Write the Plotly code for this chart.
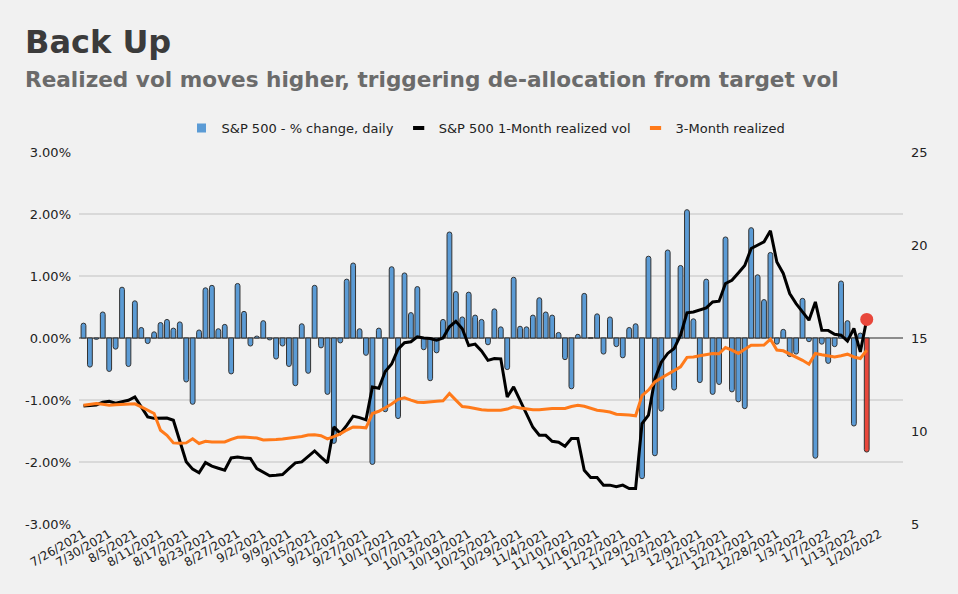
import plotly.graph_objects as go

# ---- data -------------------------------------------------------------
dates = [
    "7/26/2021", "7/27/2021", "7/28/2021", "7/29/2021", "7/30/2021",
    "8/2/2021", "8/3/2021", "8/4/2021", "8/5/2021", "8/6/2021", "8/9/2021", "8/10/2021",
    "8/11/2021", "8/12/2021", "8/13/2021", "8/16/2021", "8/17/2021", "8/18/2021",
    "8/19/2021", "8/20/2021", "8/23/2021", "8/24/2021", "8/25/2021", "8/26/2021",
    "8/27/2021", "8/30/2021", "8/31/2021",
    "9/1/2021", "9/2/2021", "9/3/2021", "9/7/2021", "9/8/2021", "9/9/2021", "9/10/2021",
    "9/13/2021", "9/14/2021", "9/15/2021", "9/16/2021", "9/17/2021", "9/20/2021",
    "9/21/2021", "9/22/2021", "9/23/2021", "9/24/2021", "9/27/2021", "9/28/2021",
    "9/29/2021", "9/30/2021",
    "10/1/2021", "10/4/2021", "10/5/2021", "10/6/2021", "10/7/2021", "10/8/2021",
    "10/11/2021", "10/12/2021", "10/13/2021", "10/14/2021", "10/15/2021", "10/18/2021",
    "10/19/2021", "10/20/2021", "10/21/2021", "10/22/2021", "10/25/2021", "10/26/2021",
    "10/27/2021", "10/28/2021", "10/29/2021",
    "11/1/2021", "11/2/2021", "11/3/2021", "11/4/2021", "11/5/2021", "11/8/2021",
    "11/9/2021", "11/10/2021", "11/11/2021", "11/12/2021", "11/15/2021", "11/16/2021",
    "11/17/2021", "11/18/2021", "11/19/2021", "11/22/2021", "11/23/2021", "11/24/2021",
    "11/26/2021", "11/29/2021", "11/30/2021",
    "12/1/2021", "12/2/2021", "12/3/2021", "12/6/2021", "12/7/2021", "12/8/2021",
    "12/9/2021", "12/10/2021", "12/13/2021", "12/14/2021", "12/15/2021", "12/16/2021",
    "12/17/2021", "12/20/2021", "12/21/2021", "12/22/2021", "12/23/2021", "12/27/2021",
    "12/28/2021", "12/29/2021", "12/30/2021", "12/31/2021",
    "1/3/2022", "1/4/2022", "1/5/2022", "1/6/2022", "1/7/2022", "1/10/2022", "1/11/2022",
    "1/12/2022", "1/13/2022", "1/14/2022", "1/18/2022", "1/19/2022", "1/20/2022",
]

# S&P 500 daily % change
daily_change = [
    0.24, -0.47, -0.02, 0.42, -0.54,
    -0.18, 0.82, -0.46, 0.60, 0.17, -0.09, 0.10, 0.25, 0.30, 0.16, 0.26, -0.71, -1.07,
    0.13, 0.81, 0.85, 0.15, 0.22, -0.58, 0.88, 0.43, -0.13,
    0.03, 0.28, -0.03, -0.34, -0.13, -0.46, -0.77, 0.23, -0.57, 0.85, -0.16, -0.91, -1.70,
    -0.08, 0.95, 1.21, 0.15, -0.28, -2.04, 0.16, -1.19,
    1.15, -1.30, 1.05, 0.41, 0.83, -0.19, -0.69, -0.24, 0.30, 1.71, 0.75, 0.34, 0.74,
    0.37, 0.30, -0.11, 0.47, 0.18, -0.51, 0.98, 0.19,
    0.18, 0.37, 0.65, 0.42, 0.37, 0.09, -0.35, -0.82, 0.06, 0.72, 0.00, 0.39, -0.26,
    0.34, -0.14, -0.32, 0.17, 0.23, -2.27, 1.32, -1.90,
    -1.18, 1.42, -0.84, 1.17, 2.07, 0.31, -0.72, 0.95, -0.91, -0.75, 1.63, -0.87, -1.03,
    -1.14, 1.78, 1.02, 0.62, 1.38, -0.10, 0.14, -0.30, -0.26,
    0.64, -0.06, -1.94, -0.10, -0.41, -0.14, 0.92, 0.28, -1.42, 0.08, -1.84,
]

# S&P 500 1-Month realized vol (right axis)
vol_1m = [
    11.35, 11.38, 11.40, 11.55, 11.60, 11.50, 11.56, 11.65, 11.83, 11.30,
    10.76, 10.68, 10.68, 10.70, 10.58, 9.45, 8.35, 7.95, 7.75, 8.30,
    8.11, 8.00, 7.89, 8.55, 8.60, 8.55, 8.52, 7.98, 7.78, 7.59,
    7.62, 7.66, 7.98, 8.29, 8.34, 8.62, 8.93, 8.60, 8.29, 10.22,
    9.87, 10.30, 10.80, 10.72, 10.60, 12.37, 12.30, 13.20, 13.60, 14.40,
    14.75, 14.80, 15.06, 15.00, 14.97, 14.88, 15.00, 15.60, 15.90, 15.50,
    14.60, 14.67, 14.30, 13.80, 13.90, 13.88, 11.83, 12.37, 11.66, 10.94,
    10.20, 9.77, 9.77, 9.45, 9.40, 9.18, 9.60, 9.60, 7.89, 7.50,
    7.50, 7.09, 7.09, 7.00, 7.09, 6.91, 6.91, 10.40, 10.85, 12.80,
    13.70, 14.17, 14.44, 15.15, 16.35, 16.40, 16.53, 16.62, 16.94, 16.98,
    17.93, 18.10, 18.50, 18.90, 19.81, 20.00, 20.17, 20.76, 19.09, 18.47,
    17.39, 16.85, 16.40, 15.96, 16.94, 15.42, 15.41, 15.20, 15.15, 14.83,
    15.51, 14.25, 16.00,
]

# 3-Month realized vol (right axis)
vol_3m = [
    11.39, 11.44, 11.48, 11.44, 11.39, 11.41, 11.44, 11.46, 11.46, 11.30,
    11.10, 10.94, 10.04, 9.77, 9.36, 9.34, 9.36, 9.58, 9.33, 9.45,
    9.41, 9.41, 9.41, 9.55, 9.66, 9.68, 9.65, 9.62, 9.52, 9.52,
    9.54, 9.57, 9.60, 9.64, 9.70, 9.78, 9.80, 9.75, 9.58, 9.70,
    9.85, 10.05, 10.22, 10.20, 10.17, 10.94, 11.06, 11.25, 11.45, 11.70,
    11.78, 11.66, 11.55, 11.53, 11.58, 11.60, 11.62, 12.02, 11.66, 11.32,
    11.28, 11.20, 11.14, 11.12, 11.12, 11.12, 11.18, 11.30, 11.24, 11.18,
    11.14, 11.14, 11.18, 11.21, 11.21, 11.21, 11.32, 11.38, 11.33, 11.22,
    11.12, 11.08, 11.02, 10.90, 10.89, 10.86, 10.82, 11.90, 12.20, 12.64,
    12.85, 13.05, 13.25, 13.45, 13.96, 13.98, 14.05, 14.10, 14.17, 14.15,
    14.49, 14.35, 14.17, 14.40, 14.61, 14.61, 14.62, 14.94, 14.35, 14.31,
    14.15, 13.95, 13.80, 13.59, 14.17, 14.10, 14.05, 13.98, 14.05, 14.13,
    13.98, 13.90, 14.35,
]

tick_labels = dates[::4]
left_ticks = [-3, -2, -1, 0, 1, 2, 3]
left_tick_text = ["-3.00%", "-2.00%", "-1.00%", "0.00%", "1.00%", "2.00%", "3.00%"]
right_ticks = [5, 10, 15, 20, 25]

series_names = ["S&P 500 - % change, daily", "S&P 500 1-Month realized vol", "3-Month realized"]

# ---- styling ----------------------------------------------------------
FONT = "DejaVu Sans, Verdana, sans-serif"
BLUE = "#5b9bd5"
RED = "#e8473b"
ORANGE = "#ff7a1a"
BG = "#f1f1f1"

W, H = 958, 594
L, R, T, B = 79, 55, 152, 70
PW, PH = W - L - R, H - T - B


def px_to_paper_x(px):
    return (px - L) / PW


def px_to_paper_y(py):
    return (H - B - py) / PH


n = len(daily_change)
x_data = dates[:n]
bar_colors = [BLUE] * (n - 1) + [RED]

fig = go.Figure()

fig.add_trace(go.Bar(
    x=x_data, y=daily_change, yaxis="y",
    marker=dict(color=bar_colors, line=dict(color="#333333", width=1), cornerradius="50%"),
    showlegend=False, hoverinfo="x+y",
))
fig.add_trace(go.Scatter(
    x=x_data, y=vol_1m, yaxis="y2", mode="lines",
    line=dict(color="#000000", width=3), showlegend=False,
))
fig.add_trace(go.Scatter(
    x=x_data, y=vol_3m, yaxis="y2", mode="lines",
    line=dict(color=ORANGE, width=3), showlegend=False,
))
fig.add_trace(go.Scatter(
    x=[x_data[-1]], y=[vol_1m[-1]], yaxis="y2", mode="markers",
    marker=dict(color=RED, size=13), showlegend=False,
))

# legend entries
fig.add_trace(go.Scatter(
    x=[dates[0]], y=[None], yaxis="y2", mode="markers", name=series_names[0],
    marker=dict(symbol="square", size=9, color=BLUE),
))
fig.add_trace(go.Scatter(
    x=[dates[0]], y=[None], yaxis="y2", mode="markers", name=series_names[1],
    marker=dict(symbol="line-ew", size=8, line=dict(color="#000000", width=4)),
))
fig.add_trace(go.Scatter(
    x=[dates[0]], y=[None], yaxis="y2", mode="markers", name=series_names[2],
    marker=dict(symbol="line-ew", size=8, line=dict(color=ORANGE, width=4)),
))

fig.update_layout(
    width=W, height=H,
    margin=dict(l=L, r=R, t=T, b=B, autoexpand=False),
    paper_bgcolor=BG, plot_bgcolor=BG,
    font=dict(family=FONT, color="#222222", size=13),
    bargap=0.25,
    showlegend=True,
    legend=dict(
        orientation="h", x=px_to_paper_x(486), xanchor="center",
        y=px_to_paper_y(128), yanchor="middle",
        font=dict(family=FONT, size=13, color="#222222"),
        bgcolor="rgba(0,0,0,0)", traceorder="normal", itemwidth=30,
    ),
    xaxis=dict(
        type="category", categoryorder="array", categoryarray=dates,
        range=[-0.7, 127.65],
        tickmode="array", tickvals=tick_labels, ticktext=tick_labels,
        tickangle=-30, tickfont=dict(family=FONT, size=12, color="#222222"),
        showgrid=False, zeroline=False, showline=False, ticks="",
    ),
    yaxis=dict(
        range=[-3, 3], tickmode="array", tickvals=left_ticks, ticktext=left_tick_text,
        showgrid=True, gridcolor="#d9d9d9", gridwidth=2,
        zeroline=True, zerolinecolor="#8c8c8c", zerolinewidth=1.5,
        showline=False, ticks="", ticklabelstandoff=7,
        tickfont=dict(family=FONT, size=13, color="#222222"),
    ),
    yaxis2=dict(
        range=[5, 25], tickmode="array", tickvals=right_ticks,
        overlaying="y", side="right", showgrid=False, zeroline=False, showline=False,
        ticks="", ticklabelstandoff=7,
        tickfont=dict(family=FONT, size=13, color="#222222"),
    ),
    annotations=[
        dict(
            text="<b>Back Up</b>", xref="paper", yref="paper",
            x=px_to_paper_x(23), y=px_to_paper_y(42), xanchor="left", yanchor="middle",
            showarrow=False, font=dict(family=FONT, size=32, color="#3b3b3b"),
        ),
        dict(
            text="<b>Realized vol moves higher, triggering de-allocation from target vol</b>",
            xref="paper", yref="paper",
            x=px_to_paper_x(23), y=px_to_paper_y(80), xanchor="left", yanchor="middle",
            showarrow=False, font=dict(family=FONT, size=21.6, color="#6b6b6b"),
        ),
    ],
)

fig.write_html("out.html")
